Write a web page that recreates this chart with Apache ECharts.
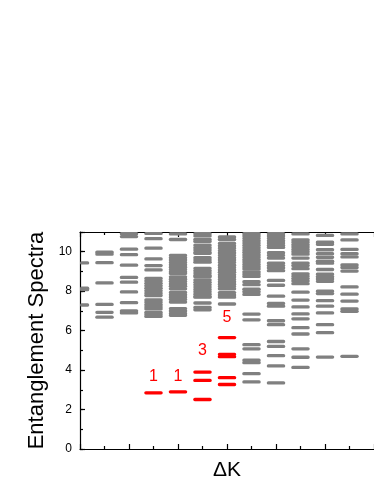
<!DOCTYPE html>
<html>
<head>
<meta charset="utf-8">
<script src="https://cdn.jsdelivr.net/npm/echarts@6/dist/echarts.min.js"></script>
<style>
html,body{margin:0;padding:0;background:#fff;}
#chart{width:374px;height:484px;}
</style>
</head>
<body>
<div id="chart"></div>
<script>
// Gray entanglement-spectrum levels, one list per ΔK column
const col0 = [9.43, 8.15, 8.08, 7.3];
const col1 = [9.98, 9.88, 9.45, 8.42, 7.33, 6.93, 6.68];
const col2 = [10.92, 10.77, 10.13, 9.85, 9.32, 8.7, 8.46, 7.96, 7.42, 7.0, 6.9];
const col3 = [10.93, 10.66, 10.18, 9.64, 9.3, 9.08, 8.65, 8.52, 8.4, 8.28, 8.15, 8.03, 7.9, 7.78, 7.56, 7.44, 7.32, 7.2, 7.1, 6.92, 6.82, 6.72];
const col4 = [10.9, 10.62, 9.82, 9.7, 9.58, 9.46, 9.34, 9.22, 9.1, 8.98, 8.9, 8.73, 8.61, 8.49, 8.37, 8.25, 8.12, 7.94, 7.82, 7.7, 7.58, 7.45, 7.12, 7.0, 6.88, 6.78];
const col5 = [10.92, 10.8, 10.62, 10.52, 10.33, 10.21, 10.09, 9.97, 9.92, 9.7, 9.58, 9.47, 9.16, 9.04, 8.92, 8.8, 8.74, 8.57, 8.45, 8.33, 8.21, 8.09, 7.97, 7.85, 7.73, 7.7, 7.4, 7.18, 7.06];
const col6 = [10.75, 10.62, 10.42, 10.3, 10.18, 10.06, 9.94, 9.82, 9.7, 9.58, 9.46, 9.32, 9.2, 9.08, 8.96, 8.84, 8.72, 8.6, 8.48, 8.36, 8.24, 8.12, 7.93, 7.81, 7.7, 7.35];
const col7 = [10.92, 10.8, 10.68, 10.56, 10.44, 10.32, 10.2, 10.08, 9.96, 9.84, 9.72, 9.6, 9.48, 9.36, 9.24, 9.13, 8.98, 8.86, 8.75, 8.48, 8.33, 8.1, 7.98, 7.84, 6.84, 6.55, 5.29, 5.08, 4.5, 4.38, 3.82, 3.4];
const col8 = [10.92, 10.8, 10.68, 10.56, 10.44, 10.32, 10.22, 9.95, 9.82, 9.68, 9.42, 9.3, 9.18, 9.04, 8.55, 8.3, 7.75, 7.38, 7.24, 6.5, 6.3, 5.45, 5.2, 4.73, 4.21, 3.35];
const col9 = [10.9, 10.6, 10.48, 10.36, 10.24, 10.12, 10.0, 9.88, 9.68, 9.42, 9.3, 9.14, 8.88, 8.76, 8.64, 8.52, 8.38, 7.95, 7.55, 7.2, 6.85, 6.6, 6.15, 5.83, 5.08, 4.65, 4.14];
const col10 = [10.83, 10.48, 10.38, 10.1, 9.9, 9.72, 9.52, 9.42, 9.1, 8.86, 8.74, 8.62, 8.5, 8.0, 7.88, 7.52, 7.24, 6.9, 6.3, 5.9, 4.66];
const col11 = [10.9, 10.6, 10.12, 9.9, 9.74, 9.33, 9.2, 9.02, 8.22, 7.85, 7.5, 7.1, 6.98, 4.7];

// Red (low-lying) levels
const redColumns = [3, 4, 5, 6];
const redLevels = [[2.85], [2.9], [3.9, 3.48, 2.51], [5.65, 4.8, 4.68, 3.62, 3.27]];
// Degeneracy counting labels
const labelColumns = [3, 4, 5, 6];
const labelValues = [3.67, 3.67, 4.98, 6.68];
const labelTexts = ['1', '1', '3', '5'];

const grayColumns = [col0, col1, col2, col3, col4, col5, col6, col7, col8, col9, col10, col11];
const grayData = [];
grayColumns.forEach((lv, k) => lv.forEach(v => grayData.push([k, v])));
const redData = [];
redColumns.forEach((k, i) => redLevels[i].forEach(v => redData.push([k, v])));
const labelData = labelColumns.map((k, i) => [k, labelValues[i], labelTexts[i]]);

function dashRenderer(color) {
  return function (params, api) {
    const p = api.coord([api.value(0), api.value(1)]);
    const w = 18.5, h = 3.3;
    const cs = params.coordSys;
    const shape = echarts.graphic.clipRectByRect(
      { x: p[0] - w / 2, y: p[1] - h / 2, width: w, height: h },
      { x: cs.x, y: cs.y, width: cs.width, height: cs.height }
    );
    if (!shape) return null;
    shape.r = 1.6;
    return { type: 'rect', shape: shape, style: { fill: color } };
  };
}

const font = 'Liberation Sans';
const chart = echarts.init(document.getElementById('chart'), null, { renderer: 'canvas' });
chart.setOption({
  animation: false,
  backgroundColor: '#fff',
  grid: { left: 80, top: 232, height: 217, width: 307, containLabel: false },
  xAxis: [{
    type: 'value', min: 0, max: 12, interval: 2, position: 'bottom',
    name: 'ΔK', nameLocation: 'middle', nameGap: 11,
    nameTextStyle: { fontFamily: font, fontSize: 21, color: '#000', verticalAlign: 'top' },
    axisLine: { show: true, onZero: false, lineStyle: { color: '#000', width: 1.2 } },
    axisTick: { show: true, inside: true, length: 5, lineStyle: { color: '#000', width: 1.2 } },
    minorTick: { show: true, splitNumber: 2, length: 3, lineStyle: { color: '#000', width: 1.2 } },
    axisLabel: { show: false },
    splitLine: { show: false }
  }, {
    type: 'value', min: 0, max: 12, interval: 2, position: 'top',
    axisLine: { show: true, onZero: false, lineStyle: { color: '#000', width: 1.2 } },
    axisTick: { show: true, inside: true, length: 5, lineStyle: { color: '#000', width: 1.2 } },
    minorTick: { show: true, splitNumber: 2, length: 3, lineStyle: { color: '#000', width: 1.2 } },
    axisLabel: { show: false },
    splitLine: { show: false }
  }],
  yAxis: [{
    type: 'value', min: 0, max: 11, interval: 2, position: 'left',
    name: 'Entanglement Spectra', nameLocation: 'middle', nameGap: 27,
    nameTextStyle: { fontFamily: font, fontSize: 22, color: '#000' },
    axisLine: { show: true, onZero: false, lineStyle: { color: '#000', width: 1.2 } },
    axisTick: { show: true, inside: true, length: 5, lineStyle: { color: '#000', width: 1.2 } },
    axisLabel: {
      fontFamily: font, fontSize: 12, color: '#000', margin: 8,
      formatter: v => (v % 2 === 0 ? String(v) : '')
    },
    splitLine: { show: false }
  }, {
    type: 'value', min: 0, max: 11, interval: 1, position: 'left', offset: 0,
    axisLine: { show: false },
    axisTick: { show: true, inside: true, length: 3, lineStyle: { color: '#000', width: 1.2 } },
    axisLabel: { show: false },
    splitLine: { show: false }
  }],
  series: [{
    type: 'custom', name: 'gray', xAxisIndex: 0, yAxisIndex: 0,
    renderItem: dashRenderer('#808080'),
    data: grayData
  }, {
    type: 'custom', name: 'red', xAxisIndex: 0, yAxisIndex: 0,
    renderItem: dashRenderer('#ff0000'),
    data: redData
  }, {
    type: 'custom', name: 'labels', xAxisIndex: 0, yAxisIndex: 0,
    renderItem: function (params, api) {
      const p = api.coord([api.value(0), api.value(1)]);
      return {
        type: 'text', x: p[0], y: p[1],
        style: {
          text: labelData[params.dataIndex][2], fill: '#ff0000',
          font: '16px "Liberation Sans"', align: 'center', verticalAlign: 'middle'
        }
      };
    },
    data: labelData
  }]
});
</script>
</body>
</html>
